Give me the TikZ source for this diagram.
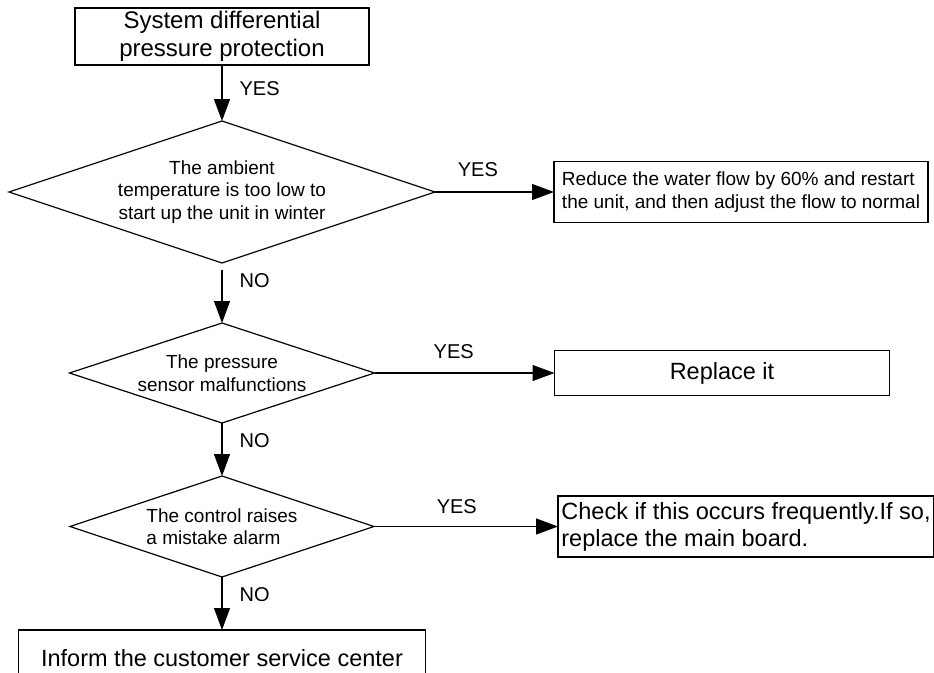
\documentclass[tikz,border=0pt]{standalone}
\usepackage{fontspec}
\setmainfont{Liberation Sans}
\usetikzlibrary{shapes.geometric,arrows.meta,positioning}

\begin{document}
\begin{tikzpicture}[
    x=1pt, y=-1pt,
    box/.style={rectangle, draw, line width=1.2pt, inner sep=0pt, outer sep=0pt, align=center},
    decision/.style={diamond, draw, line width=1.2pt, aspect=3, inner sep=0pt, outer sep=0pt, align=center, font=\fontsize{19}{22.5}\selectfont},
    arrow/.style={-{Triangle[length=22pt,width=16pt]}, line width=1.2pt},
    tag/.style={inner sep=0pt, font=\fontsize{20}{24}\selectfont}
]
\useasboundingbox (0,0) rectangle (934,672);
\clip (0,0) rectangle (934,672);

% main column
\node[box, minimum width=294pt, minimum height=57pt, font=\fontsize{24}{28}\selectfont] (start) at (222,36.5) {System differential\\pressure protection};
\node[decision, minimum width=426pt, minimum height=142pt, below=56pt of start] (winter) {The ambient\\temperature is too low to\\start up the unit in winter};
\node[decision, minimum width=305pt, minimum height=100pt, below=60pt of winter] (sensor) {The pressure\\sensor malfunctions};
\node[decision, minimum width=304pt, minimum height=101pt, below=53pt of sensor, align=left] (alarm) {The control raises\\a mistake alarm};
\node[box, minimum width=407pt, minimum height=56pt, below=53pt of alarm, font=\fontsize{23.5}{28}\selectfont] (inform) {Inform the customer service center};

% actions on the right
\node[box, minimum width=374pt, minimum height=61pt, right=119pt of winter, align=left, font=\fontsize{19}{23}\selectfont] (flow) {Reduce the water flow by 60\% and restart\\the unit, and then adjust the flow to normal};
\node[box, minimum width=335pt, minimum height=45pt, right=180pt of sensor, font=\fontsize{23.5}{28}\selectfont] (replace) {Replace it};
\node[box, minimum width=376pt, minimum height=61pt, right=184pt of alarm, align=left, font=\fontsize{23.5}{27}\selectfont] (board) {Check if this occurs frequently.If so,\\replace the main board.};

% connectors
\draw[arrow] (start) -- node[tag, pos=0.43, right=17pt] {YES} (winter);
\draw[arrow, shorten <=7pt] (winter) -- node[tag, pos=0.3, right=17pt] {NO} (sensor);
\draw[arrow] (sensor) -- node[tag, pos=0.34, right=17pt] {NO} (alarm);
\draw[arrow] (alarm) -- node[tag, pos=0.34, right=17pt] {NO} (inform);

\draw[arrow] (winter.east) -- node[tag, pos=0.36, above=15pt] {YES} (flow.west);
\draw[arrow] (sensor.east) -- node[tag, pos=0.44, above=14pt] {YES} (replace.west);
\draw[arrow] (alarm.east) -- node[tag, pos=0.45, above=12pt] {YES} (board.west);

\end{tikzpicture}
\end{document}
